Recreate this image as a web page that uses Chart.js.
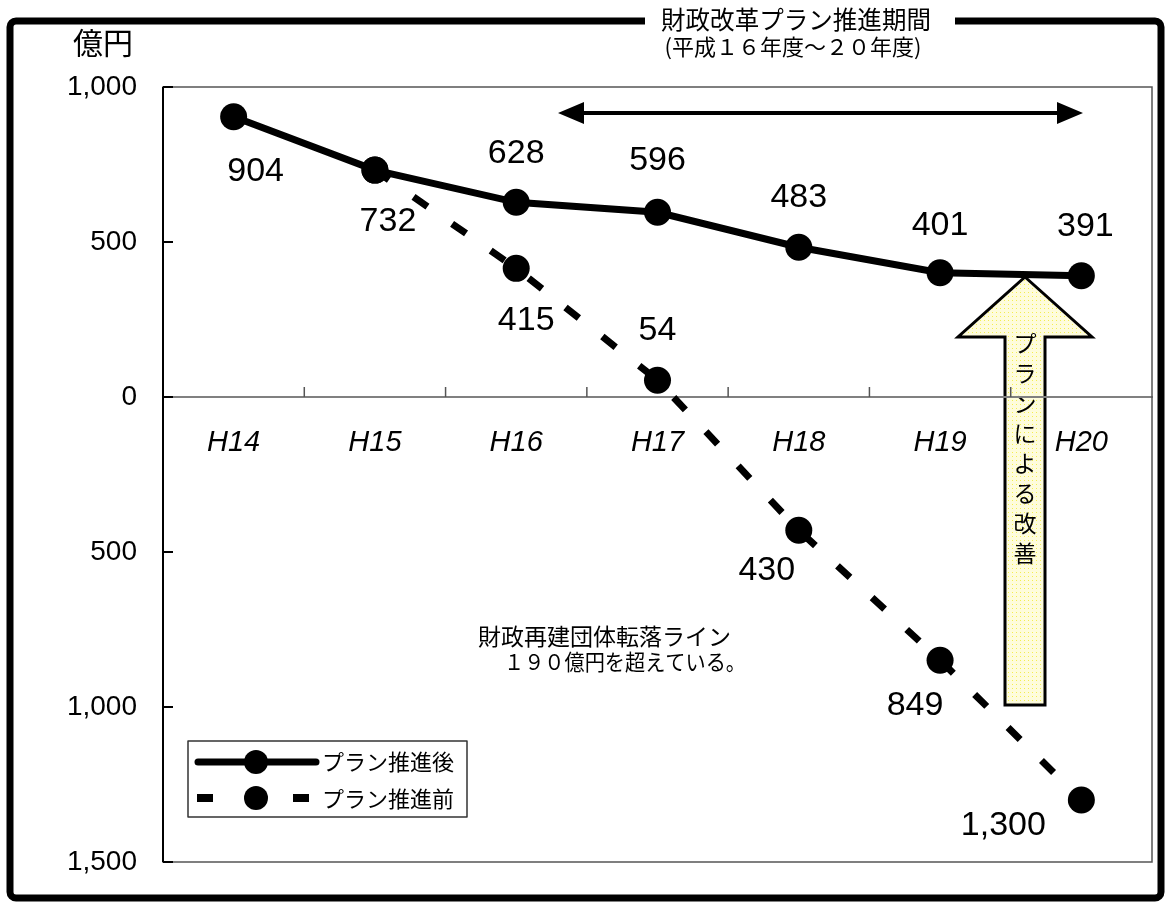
<!DOCTYPE html>
<html lang="ja">
<head>
<meta charset="UTF-8">
<title>財政改革プラン推進期間</title>
<script src="https://cdn.jsdelivr.net/npm/chart.js"></script>
<style>
  body { margin: 0; background: #fff; }
  #wrap { width: 1169px; height: 905px; }
</style>
</head>
<body>
<div id="wrap"><canvas id="chart" width="1169" height="905"></canvas></div>
<script>
// 年度と収支見通し（億円）
const years = ['H14', 'H15', 'H16', 'H17', 'H18', 'H19', 'H20'];
const afterPlan = [904, 732, 628, 596, 483, 401, 391];
const beforePlan = [null, 732, 415, 54, -430, -849, -1300];
const yMin = -1500, yMax = 1000, yStep = 500;

// 数値ラベルの位置（点の中心からのずれ）
const afterLabelPos = [[22, 55], [13, 52], [0, -49], [0, -52], [0, -50], [0, -47], [4, -49]];
const beforeLabelPos = [null, null, [10, 52], [0, -50], [-32, 40], [-25, 45], [-78, 26]];

const JP = '"Noto Sans CJK JP", sans-serif';
const NUM = '"Liberation Sans", Arial, sans-serif';

const fmt = v => Math.abs(v).toLocaleString('en-US');

// 矢印の塗り（淡い黄色に点描）
function dotPattern(ctx) {
    const c = document.createElement('canvas');
    c.width = 4; c.height = 4;
    const p = c.getContext('2d');
    p.fillStyle = '#fefcdc';
    p.fillRect(0, 0, 4, 4);
    p.fillStyle = '#f4ee50';
    p.fillRect(0, 0, 1, 1);
    return ctx.createPattern(c, 'repeat');
}

const backdrop = {
    id: 'backdrop',
    beforeDraw(chart) {
        const ctx = chart.ctx;
        // 改善を示す上向き矢印
        ctx.save();
        ctx.beginPath();
        ctx.moveTo(1025, 277);
        ctx.lineTo(1092, 337);
        ctx.lineTo(1045, 337);
        ctx.lineTo(1045, 705);
        ctx.lineTo(1005, 705);
        ctx.lineTo(1005, 337);
        ctx.lineTo(958, 337);
        ctx.closePath();
        ctx.fillStyle = dotPattern(ctx);
        ctx.fill();
        ctx.lineWidth = 3;
        ctx.lineJoin = 'miter';
        ctx.strokeStyle = '#000';
        ctx.stroke();

        ctx.fillStyle = '#000';
        ctx.font = '23px ' + JP;
        ctx.textAlign = 'center';
        ctx.textBaseline = 'middle';
        [...'プランによる改善'].forEach((ch, i) => ctx.fillText(ch, 1025, 343 + i * 30));
        ctx.restore();
    }
};

const decorations = {
    id: 'decorations',
    afterDatasetsDraw(chart) {
        const ctx = chart.ctx;
        ctx.save();
        ctx.fillStyle = '#000';
        ctx.font = '34px ' + NUM;
        ctx.textAlign = 'center';
        ctx.textBaseline = 'middle';
        const put = (dsIndex, values, offsets) => {
            const meta = chart.getDatasetMeta(dsIndex);
            values.forEach((v, i) => {
                if (v === null || !offsets[i]) return;
                const pt = meta.data[i];
                ctx.fillText(fmt(v), pt.x + offsets[i][0], pt.y + offsets[i][1]);
            });
        };
        put(0, afterPlan, afterLabelPos);
        put(1, beforePlan, beforeLabelPos);
        ctx.restore();
    },
    afterDraw(chart) {
        const ctx = chart.ctx;
        const a = chart.chartArea;
        const y = chart.scales.y;
        ctx.save();

        // 描画領域の枠
        ctx.strokeStyle = '#555';
        ctx.lineWidth = 1.5;
        ctx.strokeRect(a.left, a.top, a.right - a.left, a.bottom - a.top);
        ctx.strokeStyle = '#000';
        ctx.lineWidth = 2;
        ctx.beginPath();
        ctx.moveTo(a.left, a.top);
        ctx.lineTo(a.left, a.bottom);
        ctx.stroke();

        // 縦軸の内向き目盛
        y.ticks.forEach(t => {
            const py = y.getPixelForValue(t.value);
            ctx.beginPath();
            ctx.moveTo(a.left, py);
            ctx.lineTo(a.left + 10, py);
            ctx.stroke();
        });

        // 横軸（0の線）の区切り目盛
        const zero = y.getPixelForValue(0);
        const step = (a.right - a.left) / years.length;
        ctx.strokeStyle = '#555';
        ctx.lineWidth = 1.5;
        for (let i = 1; i < years.length; i++) {
            const px = a.left + step * i;
            ctx.beginPath();
            ctx.moveTo(px, zero);
            ctx.lineTo(px, zero - 10);
            ctx.stroke();
        }

        // 単位
        ctx.fillStyle = '#000';
        ctx.font = '30px ' + JP;
        ctx.textAlign = 'center';
        ctx.textBaseline = 'middle';
        ctx.fillText('億円', 103, 43);

        // 外枠（上辺中央は見出しのため空ける）
        ctx.strokeStyle = '#000';
        ctx.lineWidth = 7;
        ctx.lineJoin = 'round';
        const L = 10, T = 21, R = 1161, B = 898, r = 6;
        ctx.beginPath();
        ctx.moveTo(645, T);
        ctx.lineTo(L + r, T);
        ctx.arcTo(L, T, L, T + r, r);
        ctx.lineTo(L, B - r);
        ctx.arcTo(L, B, L + r, B, r);
        ctx.lineTo(R - r, B);
        ctx.arcTo(R, B, R, B - r, r);
        ctx.lineTo(R, T + r);
        ctx.arcTo(R, T, R - r, T, r);
        ctx.lineTo(955, T);
        ctx.stroke();

        // 見出し
        ctx.font = '25px ' + JP;
        ctx.fillText('財政改革プラン推進期間', 796, 19, 270);
        ctx.font = '22px ' + JP;
        ctx.fillText('(平成１６年度～２０年度)', 793, 47, 284);

        // 推進期間の両矢印
        const ay = 113, ax1 = 558, ax2 = 1083, hl = 26, hw = 11;
        ctx.lineWidth = 4;
        ctx.beginPath();
        ctx.moveTo(ax1 + hl - 2, ay);
        ctx.lineTo(ax2 - hl + 2, ay);
        ctx.stroke();
        ctx.beginPath();
        ctx.moveTo(ax1, ay);
        ctx.lineTo(ax1 + hl, ay - hw);
        ctx.lineTo(ax1 + hl, ay + hw);
        ctx.closePath();
        ctx.moveTo(ax2, ay);
        ctx.lineTo(ax2 - hl, ay - hw);
        ctx.lineTo(ax2 - hl, ay + hw);
        ctx.closePath();
        ctx.fill();

        // 注記
        ctx.textAlign = 'left';
        ctx.font = '23px ' + JP;
        ctx.fillText('財政再建団体転落ライン', 478, 636, 259);
        ctx.font = '22px ' + JP;
        ctx.fillText('１９０億円を超えている。', 504, 662, 242);

        // 凡例
        ctx.fillStyle = '#fff';
        ctx.fillRect(188, 741, 279, 76);
        ctx.strokeStyle = '#333';
        ctx.lineWidth = 1.5;
        ctx.strokeRect(188, 741, 279, 76);
        ctx.fillStyle = '#000';
        ctx.strokeStyle = '#000';
        ctx.lineWidth = 7;
        ctx.lineCap = 'round';
        ctx.beginPath();
        ctx.moveTo(198, 762);
        ctx.lineTo(316, 762);
        ctx.stroke();
        ctx.beginPath();
        ctx.arc(256, 762, 12, 0, Math.PI * 2);
        ctx.fill();
        ctx.fillRect(197, 794, 16, 8);
        ctx.fillRect(293, 794, 16, 8);
        ctx.beginPath();
        ctx.arc(256, 798, 12, 0, Math.PI * 2);
        ctx.fill();
        ctx.font = '22px ' + JP;
        ctx.fillText('プラン推進後', 322, 762);
        ctx.fillText('プラン推進前', 322, 799);

        ctx.restore();
    }
};

new Chart(document.getElementById('chart'), {
    type: 'line',
    data: {
        labels: years,
        datasets: [
            {
                label: 'プラン推進後',
                data: afterPlan,
                borderColor: '#000',
                backgroundColor: '#000',
                borderWidth: 7,
                pointRadius: 13.5,
                pointHoverRadius: 13.5,
                pointBackgroundColor: '#000',
                pointBorderWidth: 0,
                tension: 0
            },
            {
                label: 'プラン推進前',
                data: beforePlan,
                borderColor: '#000',
                backgroundColor: '#000',
                borderWidth: 7,
                borderDash: [17, 30],
                pointRadius: 13.5,
                pointHoverRadius: 13.5,
                pointBackgroundColor: '#000',
                pointBorderWidth: 0,
                tension: 0
            }
        ]
    },
    options: {
        responsive: false,
        animation: false,
        events: [],
        layout: { padding: { left: 0, top: 87, right: 17, bottom: 43 } },
        plugins: {
            legend: { display: false },
            tooltip: { enabled: false }
        },
        scales: {
            x: {
                position: { y: 0 },
                offset: true,
                grid: { display: false, drawTicks: false },
                border: { display: true, color: '#808080', width: 2 },
                ticks: {
                    color: '#000',
                    padding: 29,
                    font: { family: NUM, size: 29, style: 'italic' }
                }
            },
            y: {
                min: yMin,
                max: yMax,
                afterFit: s => { s.width = 163; },
                grid: { display: false, drawTicks: false },
                border: { display: false },
                ticks: {
                    stepSize: yStep,
                    color: '#000',
                    padding: 26,
                    font: { family: NUM, size: 28 },
                    callback: v => fmt(v)
                }
            }
        }
    },
    plugins: [backdrop, decorations]
});
</script>
</body>
</html>
